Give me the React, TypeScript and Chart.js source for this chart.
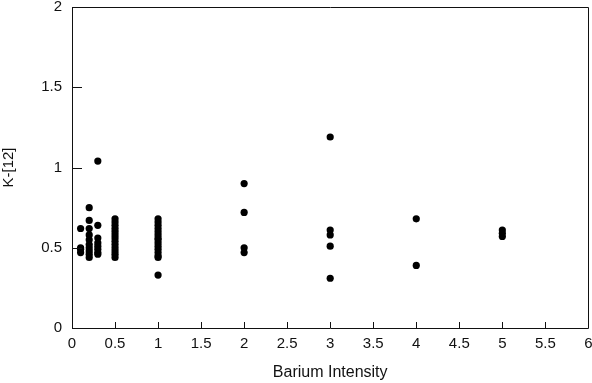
import React, { useEffect, useRef } from "react";
import { Chart, registerables } from "chart.js";

Chart.register(...registerables);

// Barium intensity (x) and K-[12] (y) for each star
const bariumIntensity = [
  0.1, 0.1, 0.1, 0.1,
  0.2, 0.2, 0.2, 0.2, 0.2, 0.2, 0.2, 0.2, 0.2, 0.2,
  0.3, 0.3, 0.3, 0.3, 0.3, 0.3, 0.3, 0.3,
  0.5, 0.5, 0.5, 0.5, 0.5, 0.5, 0.5, 0.5, 0.5, 0.5, 0.5, 0.5, 0.5,
  1, 1, 1, 1, 1, 1, 1, 1, 1, 1, 1, 1, 1, 1, 1,
  2, 2, 2, 2,
  3, 3, 3, 3, 3,
  4, 4,
  5, 5, 5,
];
const kMinus12 = [
  0.62, 0.5, 0.49, 0.47,
  0.75, 0.67, 0.62, 0.58, 0.55, 0.52, 0.5, 0.48, 0.46, 0.44,
  1.04, 0.64, 0.56, 0.53, 0.51, 0.49, 0.47, 0.46,
  0.68, 0.66, 0.64, 0.62, 0.6, 0.58, 0.56, 0.54, 0.52, 0.5, 0.48, 0.46, 0.44,
  0.68, 0.66, 0.64, 0.62, 0.6, 0.58, 0.56, 0.55, 0.53, 0.51, 0.49, 0.47, 0.45, 0.44, 0.33,
  0.9, 0.72, 0.5, 0.47,
  1.19, 0.61, 0.58, 0.51, 0.31,
  0.68, 0.39,
  0.61, 0.59, 0.57,
];
const xTicks = [0, 0.5, 1, 1.5, 2, 2.5, 3, 3.5, 4, 4.5, 5, 5.5, 6];
const yTicks = [0, 0.5, 1, 1.5, 2];
const xTitle = "Barium Intensity";
const yTitle = "K-[12]";

const FONT = "'Liberation Sans', Arial, Helvetica, sans-serif";

const framePlugin = {
  id: "frame",
  afterDraw(chart: any) {
    const { ctx, chartArea, scales } = chart;
    const { left, right, top, bottom } = chartArea;
    ctx.save();
    ctx.strokeStyle = "#111";
    ctx.lineWidth = 1;
    ctx.beginPath();
    ctx.rect(Math.round(left) + 0.5, Math.round(top) + 0.5, Math.round(right - left), Math.round(bottom - top));
    ctx.stroke();
    ctx.beginPath();
    for (const v of yTicks) {
      const y = Math.round(scales.y.getPixelForValue(v)) + 0.5;
      ctx.moveTo(left, y);
      ctx.lineTo(left + 10, y);
    }
    for (const v of xTicks) {
      const x = Math.round(scales.x.getPixelForValue(v)) + 0.5;
      ctx.moveTo(x, bottom);
      ctx.lineTo(x, bottom - 6);
    }
    ctx.stroke();
    ctx.restore();
  },
};

export default function App() {
  const ref = useRef<HTMLCanvasElement>(null);
  useEffect(() => {
    if (!ref.current) return;
    const points = bariumIntensity.map((x, i) => ({ x, y: kMinus12[i] }));
    const chart = new Chart(ref.current, {
      type: "scatter",
      data: {
        datasets: [
          {
            data: points,
            backgroundColor: "#000",
            borderColor: "#000",
            pointRadius: 3.6,
            pointHoverRadius: 3.6,
            borderWidth: 0,
          },
        ],
      },
      options: {
        animation: false,
        responsive: false,
        maintainAspectRatio: false,
        layout: { padding: { top: 7, right: 3, left: 0, bottom: 0 } },
        plugins: { legend: { display: false }, tooltip: { enabled: false } },
        scales: {
          x: {
            type: "linear",
            min: 0,
            max: 6,
            afterBuildTicks: (s: any) => {
              s.ticks = xTicks.map((v) => ({ value: v }));
            },
            afterFit: (s: any) => {
              s.height = 55;
              s.paddingLeft = 0;
              s.paddingRight = 0;
            },
            grid: { display: false, drawTicks: false },
            border: { display: false },
            ticks: {
              padding: 7,
              color: "#111",
              font: { family: FONT, size: 15 },
              callback: (v: any) => String(v),
              maxRotation: 0,
              autoSkip: false,
            },
            title: {
              display: true,
              text: xTitle,
              color: "#111",
              font: { family: FONT, size: 16 },
              padding: { top: 8, bottom: 1 },
            },
          },
          y: {
            type: "linear",
            min: 0,
            max: 2,
            afterBuildTicks: (s: any) => {
              s.ticks = yTicks.map((v) => ({ value: v }));
            },
            afterFit: (s: any) => {
              s.width = 72;
              s.paddingTop = 0;
              s.paddingBottom = 0;
            },
            grid: { display: false, drawTicks: false },
            border: { display: false },
            ticks: {
              padding: 10,
              color: "#111",
              font: { family: FONT, size: 15 },
              callback: (v: any) => String(v),
            },
            title: {
              display: true,
              text: yTitle,
              color: "#111",
              font: { family: FONT, size: 15 },
              padding: { top: 0, bottom: 0 },
            },
          },
        },
      },
      plugins: [framePlugin],
    });
    return () => chart.destroy();
  }, []);
  return (
    <div style={{ position: "fixed", left: 0, top: 0, width: 592, height: 383, background: "#fff" }}>
      <canvas ref={ref} width={592} height={383} style={{ width: 592, height: 383 }} />
    </div>
  );
}
